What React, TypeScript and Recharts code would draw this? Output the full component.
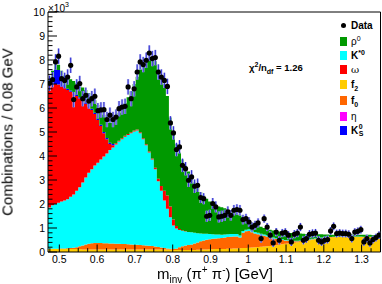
import React from 'react';
import { ComposedChart, Area, Scatter, ErrorBar, XAxis, YAxis, ReferenceLine } from 'recharts';

// binning of the histogram (GeV)
const XMIN = 0.47;
const XMAX = 1.35;
const BIN_WIDTH = 0.008;

// all counts in units of 10^3 combinations per bin
const dataCounts = [
  7.03, 7.18, 7.92, 8.16, 7.22, 7.15, 7.29, 7.78, 6.35, 6.88,
  7.02, 6.39, 6.53, 6.29, 6.39, 6.49, 5.89, 5.92, 5.93, 5.52,
  5.70, 5.52, 5.62, 5.97, 6.04, 6.07, 6.88, 6.39, 6.80, 7.50,
  7.92, 7.81, 7.99, 8.29, 8.06, 8.10, 7.50, 7.29, 7.15, 6.90,
  5.38, 4.96, 4.27, 4.38, 3.61, 3.47, 2.99, 3.13, 2.74, 2.78,
  2.27, 2.22, 1.49, 1.53, 2.02, 1.88, 1.46, 1.49, 1.53, 1.67,
  1.53, 1.74, 1.77, 1.74, 1.35, 1.39, 1.25, 1.04, 1.11, 1.21,
  0.56, 1.39, 1.04, 0.70, 0.38, 0.83, 0.49, 0.79, 0.82, 0.70,
  0.42, 0.74, 0.79, 1.04, 0.49, 0.56, 0.74, 0.77, 0.79, 0.49,
  0.42, 0.49, 0.52, 0.88, 1.07, 0.77, 0.79, 0.77, 0.77, 0.74,
  0.56, 0.83, 0.86, 0.93, 0.42, 0.56, 0.38, 0.52, 0.60, 0.70,
];

const dataErrors = [
  0.32, 0.32, 0.32, 0.32, 0.32, 0.32, 0.32, 0.32, 0.32, 0.32,
  0.32, 0.32, 0.32, 0.32, 0.32, 0.32, 0.32, 0.32, 0.32, 0.32,
  0.32, 0.32, 0.32, 0.32, 0.32, 0.32, 0.32, 0.32, 0.32, 0.32,
  0.32, 0.32, 0.32, 0.32, 0.32, 0.32, 0.32, 0.32, 0.32, 0.32,
  0.28, 0.28, 0.28, 0.28, 0.28, 0.28, 0.28, 0.28, 0.28, 0.28,
  0.23, 0.23, 0.23, 0.23, 0.23, 0.23, 0.23, 0.23, 0.23, 0.23,
  0.22, 0.22, 0.22, 0.22, 0.2, 0.2, 0.2, 0.19, 0.19, 0.19,
  0.17, 0.17, 0.17, 0.17, 0.17, 0.17, 0.17, 0.17, 0.17, 0.17,
  0.17, 0.17, 0.17, 0.17, 0.17, 0.17, 0.17, 0.17, 0.17, 0.17,
  0.16, 0.16, 0.16, 0.16, 0.16, 0.16, 0.16, 0.16, 0.16, 0.16,
  0.16, 0.16, 0.16, 0.16, 0.16, 0.16, 0.16, 0.16, 0.16, 0.16,
];

const f2 = [
  0.12, 0.12, 0.12, 0.12, 0.12, 0.12, 0.12, 0.12, 0.12, 0.12,
  0.12, 0.1, 0.1, 0.1, 0.1, 0.1, 0.1, 0.1, 0.1, 0.1,
  0.1, 0.1, 0.1, 0.1, 0.1, 0.1, 0.1, 0.1, 0.1, 0.1,
  0.1, 0.1, 0.1, 0.1, 0.1, 0.1, 0.1, 0.1, 0.1, 0.1,
  0.1, 0.08, 0.08, 0.08, 0.08, 0.08, 0.08, 0.08, 0.08, 0.09,
  0.09, 0.1, 0.1, 0.11, 0.11, 0.12, 0.12, 0.13, 0.13, 0.14,
  0.14, 0.15, 0.15, 0.16, 0.17, 0.17, 0.18, 0.19, 0.2, 0.21,
  0.22, 0.23, 0.24, 0.25, 0.27, 0.28, 0.3, 0.32, 0.34, 0.35,
  0.37, 0.39, 0.41, 0.43, 0.45, 0.47, 0.49, 0.51, 0.53, 0.55,
  0.56, 0.58, 0.59, 0.6, 0.61, 0.62, 0.62, 0.63, 0.63, 0.63,
  0.63, 0.62, 0.62, 0.62, 0.61, 0.61, 0.61, 0.6, 0.6, 0.6,
];

const f0 = [
  0.02, 0.02, 0.02, 0.02, 0.03, 0.03, 0.04, 0.05, 0.06, 0.08,
  0.12, 0.17, 0.21, 0.24, 0.26, 0.27, 0.27, 0.27, 0.26, 0.26,
  0.25, 0.25, 0.24, 0.24, 0.23, 0.23, 0.22, 0.21, 0.2, 0.2,
  0.19, 0.18, 0.17, 0.16, 0.15, 0.13, 0.11, 0.09, 0.07, 0.05,
  0.04, 0.04, 0.07, 0.12, 0.16, 0.19, 0.21, 0.23, 0.27, 0.31,
  0.36, 0.38, 0.41, 0.42, 0.44, 0.44, 0.45, 0.45, 0.47, 0.48,
  0.5, 0.5, 0.5, 0.44, 0.63, 0.69, 0.7, 0.63, 0.57, 0.53,
  0.49, 0.45, 0.41, 0.34, 0.29, 0.26, 0.22, 0.18, 0.14, 0.12,
  0.09, 0.06, 0.04, 0.03, 0.02, 0.02, 0.02, 0.02, 0.02, 0.02,
  0.02, 0.02, 0.02, 0.02, 0.02, 0.02, 0.02, 0.02, 0.02, 0.02,
  0.02, 0.02, 0.02, 0.02, 0.02, 0.02, 0.02, 0.02, 0.02, 0.02,
];

const kstar0 = [
  1.71, 1.81, 1.86, 1.91, 1.95, 2.0, 2.04, 2.13, 2.22, 2.35,
  2.46, 2.63, 2.79, 2.96, 3.09, 3.23, 3.35, 3.48, 3.62, 3.74,
  3.9, 4.0, 4.14, 4.26, 4.37, 4.47, 4.56, 4.64, 4.72, 4.76,
  4.66, 4.42, 4.18, 3.89, 3.6, 3.22, 2.74, 2.36, 1.98, 1.65,
  1.31, 0.98, 0.83, 0.72, 0.64, 0.58, 0.54, 0.51, 0.45, 0.38,
  0.32, 0.28, 0.25, 0.22, 0.19, 0.17, 0.16, 0.14, 0.13, 0.12,
  0.11, 0.1, 0.1, 0.09, 0.08, 0.07, 0.07, 0.07, 0.06, 0.06,
  0.05, 0.05, 0.05, 0.04, 0.04, 0.03, 0.03, 0.03, 0.02, 0.02,
  0.02, 0.02, 0.02, 0.02, 0.02, 0.02, 0.02, 0.02, 0.02, 0.02,
  0.02, 0.01, 0.01, 0.01, 0.01, 0.01, 0.01, 0.01, 0.01, 0.01,
  0.01, 0.01, 0.01, 0.01, 0.01, 0.01, 0.01, 0.01, 0.01, 0.01,
];

const omega = [
  5.1, 5.02, 5.0, 4.93, 4.8, 4.67, 4.55, 4.38, 4.2, 3.95,
  3.7, 3.4, 3.08, 2.75, 2.47, 2.15, 1.78, 1.4, 0.97, 0.6,
  0.25, 0.1, 0.05, 0.04, 0.04, 0.04, 0.04, 0.04, 0.04, 0.04,
  0.04, 0.04, 0.04, 0.04, 0.05, 0.06, 0.1, 0.2, 0.4, 0.55,
  0.45, 0.25, 0.1, 0.04, 0.02, 0.01, 0, 0, 0, 0,
  0, 0, 0, 0, 0, 0, 0, 0, 0, 0,
  0, 0, 0, 0, 0, 0, 0, 0, 0, 0,
  0, 0, 0, 0, 0, 0, 0, 0, 0, 0,
  0, 0, 0, 0, 0, 0, 0, 0, 0, 0,
  0, 0, 0, 0, 0, 0, 0, 0, 0, 0,
  0, 0, 0, 0, 0, 0, 0, 0, 0, 0,
];

const ks0 = [
  0.1, 0.3, 0.6, 0.6, 0.45, 0.15, 0.05, 0.05, 0.05, 0.05,
  0.05, 0.05, 0.05, 0.05, 0.05, 0.05, 0.05, 0.05, 0.05, 0.05,
  0.05, 0.05, 0, 0, 0, 0, 0, 0, 0, 0,
  0, 0, 0, 0, 0, 0, 0, 0, 0, 0,
  0, 0, 0, 0, 0, 0, 0, 0, 0, 0,
  0, 0, 0, 0, 0, 0, 0, 0, 0, 0,
  0, 0, 0, 0, 0, 0, 0, 0, 0, 0,
  0, 0, 0, 0, 0, 0, 0, 0, 0, 0,
  0, 0, 0, 0, 0, 0, 0, 0, 0, 0,
  0, 0, 0, 0, 0, 0, 0, 0, 0, 0,
  0, 0, 0, 0, 0, 0, 0, 0, 0, 0,
];

const rho0 = [
  0.15, 0.28, 0.2, 0.22, 0.2, 0.38, 0.48, 0.47, 0.47, 0.48,
  0.5, 0.5, 0.52, 0.52, 0.51, 0.52, 0.57, 0.62, 0.72, 0.75,
  0.83, 0.95, 1.07, 1.16, 1.21, 1.36, 1.53, 1.71, 1.94, 2.2,
  2.61, 3.08, 3.51, 3.91, 4.2, 4.44, 4.55, 4.55, 4.45, 4.15,
  3.7, 3.65, 3.42, 3.19, 2.95, 2.74, 2.52, 2.33, 2.1, 1.92,
  1.73, 1.59, 1.46, 1.35, 1.28, 1.22, 1.17, 1.14, 1.09, 1.04,
  0.99, 0.93, 0.85, 0.84, 0.57, 0.47, 0.37, 0.33, 0.33, 0.3,
  0.29, 0.27, 0.27, 0.3, 0.3, 0.3, 0.3, 0.3, 0.31, 0.31,
  0.31, 0.31, 0.3, 0.29, 0.27, 0.24, 0.22, 0.2, 0.17, 0.15,
  0.14, 0.12, 0.11, 0.09, 0.08, 0.07, 0.07, 0.07, 0.07, 0.07,
  0.07, 0.07, 0.07, 0.07, 0.08, 0.08, 0.08, 0.08, 0.08, 0.08,
];

const yMajor = [0, 1, 2, 3, 4, 5, 6, 7, 8, 9, 10];
const xMajor = [0.5, 0.6, 0.7, 0.8, 0.9, 1.0, 1.1, 1.2, 1.3];
const xTickLabels = ['0.5', '0.6', '0.7', '0.8', '0.9', '1', '1.1', '1.2', '1.3'];

const yTicks = Array.from({ length: 51 }, (_, i) => +(i * 0.2).toFixed(2));
const xTicks = Array.from({ length: 35 }, (_, i) => +(0.475 + i * 0.025).toFixed(3));

const COLORS = {
  rho0: '#009900',
  kstar0: '#00ffff',
  omega: '#ff0000',
  f2: '#ffcc00',
  f0: '#ff6600',
  eta: '#ff00ff',
  ks0: '#0000ff',
};

const FONT = "'Liberation Sans', Arial, Helvetica, sans-serif";

// step areas need the low edge of each bin, plus the upper edge of the last one
const fitTable = dataCounts.map((_, i) => ({
  x: +(XMIN + i * BIN_WIDTH).toFixed(3),
  f2: f2[i],
  f0: f0[i],
  kstar0: kstar0[i],
  omega: omega[i],
  ks0: ks0[i],
  rho0: rho0[i],
}));
fitTable.push({ ...fitTable[fitTable.length - 1], x: XMAX });

const points = dataCounts.map((v, i) => ({
  x: XMIN + (i + 0.5) * BIN_WIDTH,
  y: v,
  err: dataErrors[i],
}));

const YTick = (props: any) => {
  const { x, y, payload } = props;
  const idx = yMajor.findIndex((m) => Math.abs(m - payload.value) < 1e-6);
  const major = idx >= 0;
  return (
    <g>
      <line x1={x} x2={x + (major ? 9 : 4.5)} y1={y} y2={y} stroke="#000" strokeWidth={1} />
      {major && (
        <text x={x - 3} y={y + 3.7} textAnchor="end" fontSize={10.5} fontFamily={FONT} fill="#000">
          {yMajor[idx]}
        </text>
      )}
    </g>
  );
};

const XTick = (props: any) => {
  const { x, y, payload } = props;
  const idx = xMajor.findIndex((m) => Math.abs(m - payload.value) < 1e-6);
  const major = idx >= 0;
  return (
    <g>
      <line x1={x} x2={x} y1={y} y2={y - (major ? 7.5 : 3.8)} stroke="#000" strokeWidth={1} />
      {major && (
        <text x={x} y={y + 11} textAnchor="middle" fontSize={10.5} fontFamily={FONT} fill="#000">
          {xTickLabels[idx]}
        </text>
      )}
    </g>
  );
};

const DataDot = (props: any) => <circle cx={props.cx} cy={props.cy} r={2.6} fill="#000" />;

const sup = (t: string) => (
  <span style={{ fontSize: 7, position: 'relative', top: -4 }}>{t}</span>
);
const sub = (t: string) => (
  <span style={{ fontSize: 7, position: 'relative', top: 3 }}>{t}</span>
);

const legendRows = [
  { top: 25, color: null, label: <b>Data</b> },
  { top: 41, color: COLORS.rho0, label: <span>ρ{sup('0')}</span> },
  { top: 55, color: COLORS.kstar0, label: <b>K{sup('*0')}</b> },
  { top: 69.5, color: COLORS.omega, label: <span style={{ fontFamily: "'DejaVu Serif', serif" }}>ω</span> },
  { top: 84, color: COLORS.f2, label: <b>f{sub('2')}</b> },
  { top: 100, color: COLORS.f0, label: <b>f{sub('0')}</b> },
  { top: 116, color: COLORS.eta, label: <span>η</span> },
  {
    top: 130,
    color: COLORS.ks0,
    label: (
      <b style={{ display: 'inline-flex', alignItems: 'center' }}>
        K
        <span style={{ display: 'inline-flex', flexDirection: 'column', fontSize: 7, lineHeight: '7px', marginLeft: 0.5 }}>
          <span>0</span>
          <span>S</span>
        </span>
      </b>
    ),
  },
];

export default function App() {
  return (
    <div style={{ position: 'fixed', left: 0, top: 0, width: 382, height: 284, background: '#fff', fontFamily: FONT }}>
      <ComposedChart width={382} height={284} data={fitTable} margin={{ top: 12, right: 1.5, bottom: 2, left: 8 }}>
        <XAxis
          type="number"
          dataKey="x"
          domain={[XMIN, XMAX]}
          allowDataOverflow
          ticks={xTicks}
          interval={0}
          tickSize={0}
          tickMargin={0}
          tickLine={false}
          axisLine={{ stroke: '#000' }}
          tick={(p: any) => <XTick {...p} />}
          height={30}
        />
        <YAxis
          type="number"
          domain={[0, 10]}
          allowDataOverflow
          ticks={yTicks}
          interval={0}
          tickSize={0}
          tickMargin={0}
          tickLine={false}
          axisLine={{ stroke: '#000' }}
          tick={(p: any) => <YTick {...p} />}
          width={40}
        />
        <Area dataKey="f2" stackId="fit" type="stepAfter" fill={COLORS.f2} fillOpacity={1} stroke="none" dot={false} activeDot={false} isAnimationActive={false} />
        <Area dataKey="f0" stackId="fit" type="stepAfter" fill={COLORS.f0} fillOpacity={1} stroke="none" dot={false} activeDot={false} isAnimationActive={false} />
        <Area dataKey="kstar0" stackId="fit" type="stepAfter" fill={COLORS.kstar0} fillOpacity={1} stroke="none" dot={false} activeDot={false} isAnimationActive={false} />
        <Area dataKey="omega" stackId="fit" type="stepAfter" fill={COLORS.omega} fillOpacity={1} stroke="none" dot={false} activeDot={false} isAnimationActive={false} />
        <Area dataKey="ks0" stackId="fit" type="stepAfter" fill={COLORS.ks0} fillOpacity={1} stroke="none" dot={false} activeDot={false} isAnimationActive={false} />
        <Area dataKey="rho0" stackId="fit" type="stepAfter" fill={COLORS.rho0} fillOpacity={1} stroke="none" dot={false} activeDot={false} isAnimationActive={false} />
        <ReferenceLine y={10} stroke="#000" strokeWidth={1} />
        <ReferenceLine x={XMAX} stroke="#000" strokeWidth={1} />
        <Scatter data={points} dataKey="y" shape={DataDot} isAnimationActive={false}>
          <ErrorBar dataKey="err" direction="y" width={0} stroke="#b4b4f0" strokeWidth={2.4} />
          <ErrorBar dataKey="err" direction="y" width={0} stroke="#2a2ad0" strokeWidth={1} />
        </Scatter>
      </ComposedChart>

      {/* y axis title */}
      <div
        style={{
          position: 'absolute',
          left: 7,
          top: 132,
          transform: 'translate(-50%, -50%) rotate(-90deg)',
          whiteSpace: 'nowrap',
          fontSize: 15,
          lineHeight: '17px',
        }}
      >
        Combinations / 0.08 GeV
      </div>

      {/* x axis title */}
      <div
        style={{
          position: 'absolute',
          left: 215,
          top: 267,
          transform: 'translateX(-50%)',
          whiteSpace: 'nowrap',
          fontSize: 15,
          lineHeight: '13px',
        }}
      >
        m<span style={{ fontSize: 10, position: 'relative', top: 4 }}>inv</span> (π
        <span style={{ fontSize: 10, position: 'relative', top: -6 }}>+</span> π
        <span style={{ fontSize: 10, position: 'relative', top: -6 }}>-</span>) [GeV]
      </div>

      {/* exponent of the y axis */}
      <div style={{ position: 'absolute', left: 48, top: 3, fontSize: 10, lineHeight: '12px', whiteSpace: 'nowrap' }}>
        ×10<span style={{ fontSize: 7, position: 'relative', top: -5 }}>3</span>
      </div>

      {/* fit quality */}
      <div style={{ position: 'absolute', left: 249, top: 62, fontSize: 9.5, lineHeight: '12px', fontWeight: 'bold', whiteSpace: 'nowrap' }}>
        χ{sup('2')}/n{sub('df')} = 1.26
      </div>

      {/* legend */}
      {legendRows.map((row, i) => (
        <div
          key={i}
          style={{ position: 'absolute', left: 340, top: row.top - 7, height: 14, display: 'flex', alignItems: 'center', fontSize: 10, whiteSpace: 'nowrap' }}
        >
          {row.color ? (
            <div style={{ width: 7, height: 9, background: row.color }} />
          ) : (
            <div style={{ width: 7, display: 'flex', justifyContent: 'center' }}>
              <div style={{ width: 5, height: 5, borderRadius: '50%', background: '#000' }} />
            </div>
          )}
          <div style={{ marginLeft: 4 }}>{row.label}</div>
        </div>
      ))}
    </div>
  );
}
